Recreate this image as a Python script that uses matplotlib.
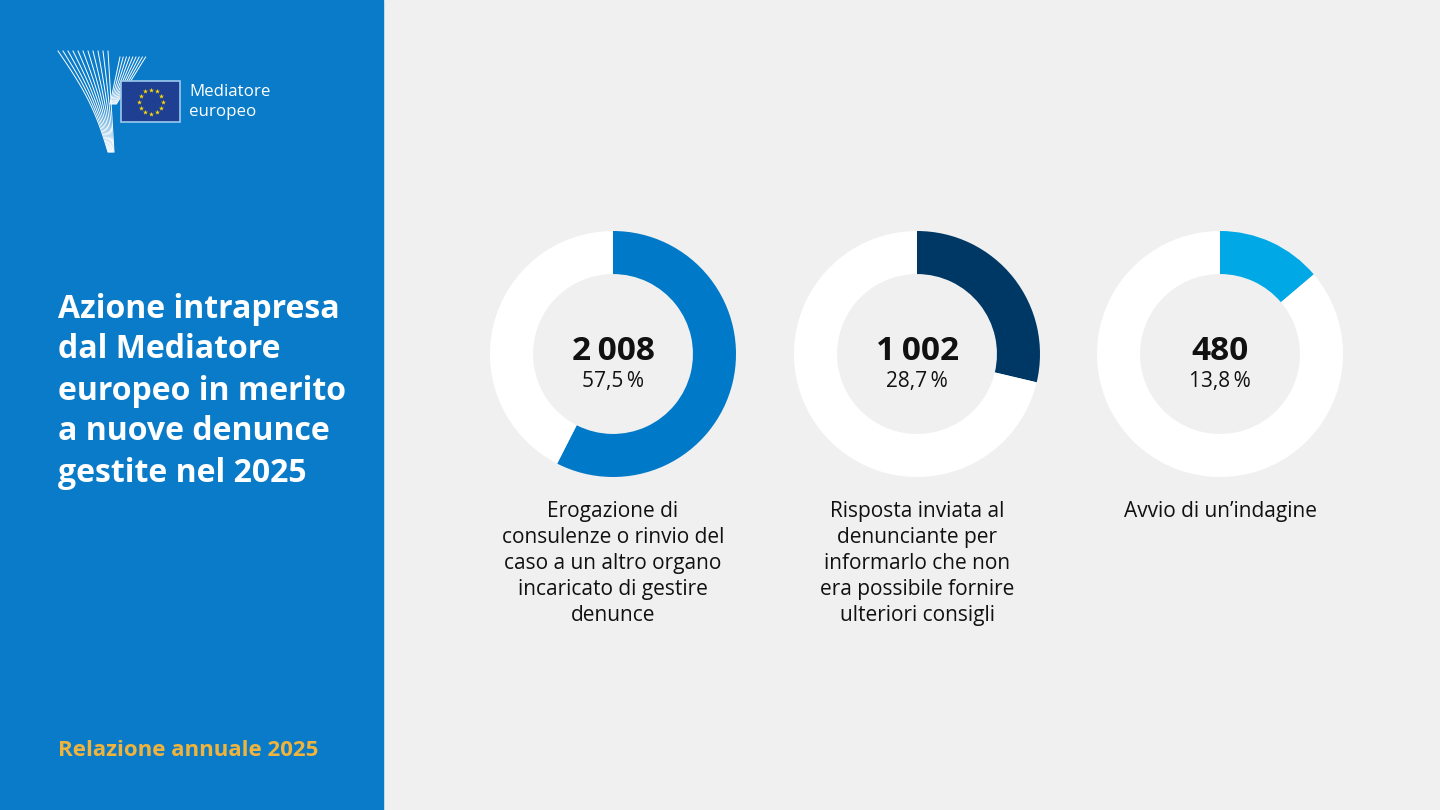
import matplotlib.pyplot as plt
import matplotlib.patches as mpatches
import numpy as np

plt.rcParams['font.family'] = ['Open Sans', 'DejaVu Sans']

# Data
categories = [
    'Erogazione di\nconsulenze o rinvio del\ncaso a un altro organo\nincaricato di gestire\ndenunce',
    'Risposta inviata al\ndenunciante per\ninformarlo che non\nera possibile fornire\nulteriori consigli',
    'Avvio di un\u2019indagine',
]
counts = [2008, 1002, 480]
percents = [57.5, 28.7, 13.8]
colors = ['#0079C8', '#003865', '#00A8E6']

title = 'Azione intrapresa\ndal Mediatore\neuropeo in merito\na nuove denunce\ngestite nel 2025'
footer = 'Relazione annuale 2025'

W, H = 1440, 810
panel_blue = '#0A7BC9'
bg = '#F0F0F0'

fig = plt.figure(figsize=(W / 100, H / 100), dpi=100)
fig.patch.set_facecolor(bg)

# full-figure axes in pixel coordinates
base = fig.add_axes([0, 0, 1, 1])
base.set_xlim(0, W)
base.set_ylim(H, 0)
base.axis('off')
base.add_patch(mpatches.Rectangle((0, 0), 383, H, color=panel_blue, zorder=0))

# logo: stripes of the Y
t = np.linspace(0, 1, 30)
for i in range(11):
    x0, x1 = 58 + 5 * i, 108 + 0.6 * i
    xs = x0 + (x1 - x0) * t + 6 * np.sin(np.pi * t) * (1 - i / 10)
    base.plot(xs, 51 + 101 * t, color='white', lw=0.7, zorder=2)
for i in range(9):
    x0, x1 = 120 + 3.2 * i, 110 + 0.8 * i
    xs = x0 + (x1 - x0) * t
    base.plot(xs, 57 + 47 * t, color='white', lw=0.7, zorder=2)

# EU flag
base.add_patch(mpatches.Rectangle((121, 81), 59, 41, facecolor='#1F3F93',
                                  edgecolor='#9CC8EC', lw=1.2, zorder=3))
ang = np.linspace(0, 2 * np.pi, 12, endpoint=False)
base.scatter(151 + 12 * np.cos(ang), 101.5 + 12 * np.sin(ang), marker='*',
             s=14, color='#FFDD00', linewidths=0, zorder=4)
base.text(189, 92, 'Mediatore', color='white', fontsize=12.2, va='center', ha='left')
base.text(189, 112, 'europeo', color='white', fontsize=12.2, va='center', ha='left')

# title and footer
base.text(58, 391, title, color='white', fontsize=23, fontweight='bold',
          va='center', ha='left', linespacing=1.32)
base.text(58, 750, footer, color='#F0B43C', fontsize=16, fontweight='bold',
          va='center', ha='left')

# donuts
centers_x = [613, 917, 1220]
cy = 354
R = 123
for cx, n, p, col, lab in zip(centers_x, counts, percents, colors, categories):
    ax = fig.add_axes([(cx - R) / W, (H - cy - R) / H, 2 * R / W, 2 * R / H])
    ax.pie([p, 100 - p], colors=[col, 'white'], startangle=90, counterclock=False,
           wedgeprops=dict(width=0.35, linewidth=0))
    ax.set_xlim(-1, 1)
    ax.set_ylim(-1, 1)
    ax.axis('off')
    num = f'{n:,}'.replace(',', '\u2009')
    base.text(cx, 351, num, fontsize=24, fontweight='bold', color='#111111',
              ha='center', va='center')
    base.text(cx, 382, f'{p:.1f}'.replace('.', ',') + '\u2009%', fontsize=15,
              color='#111111', ha='center', va='center')
    base.text(cx, 501, lab, fontsize=15, color='#111111', ha='center', va='top',
              linespacing=1.32)

fig.savefig('out.png', dpi=100, facecolor=bg)
